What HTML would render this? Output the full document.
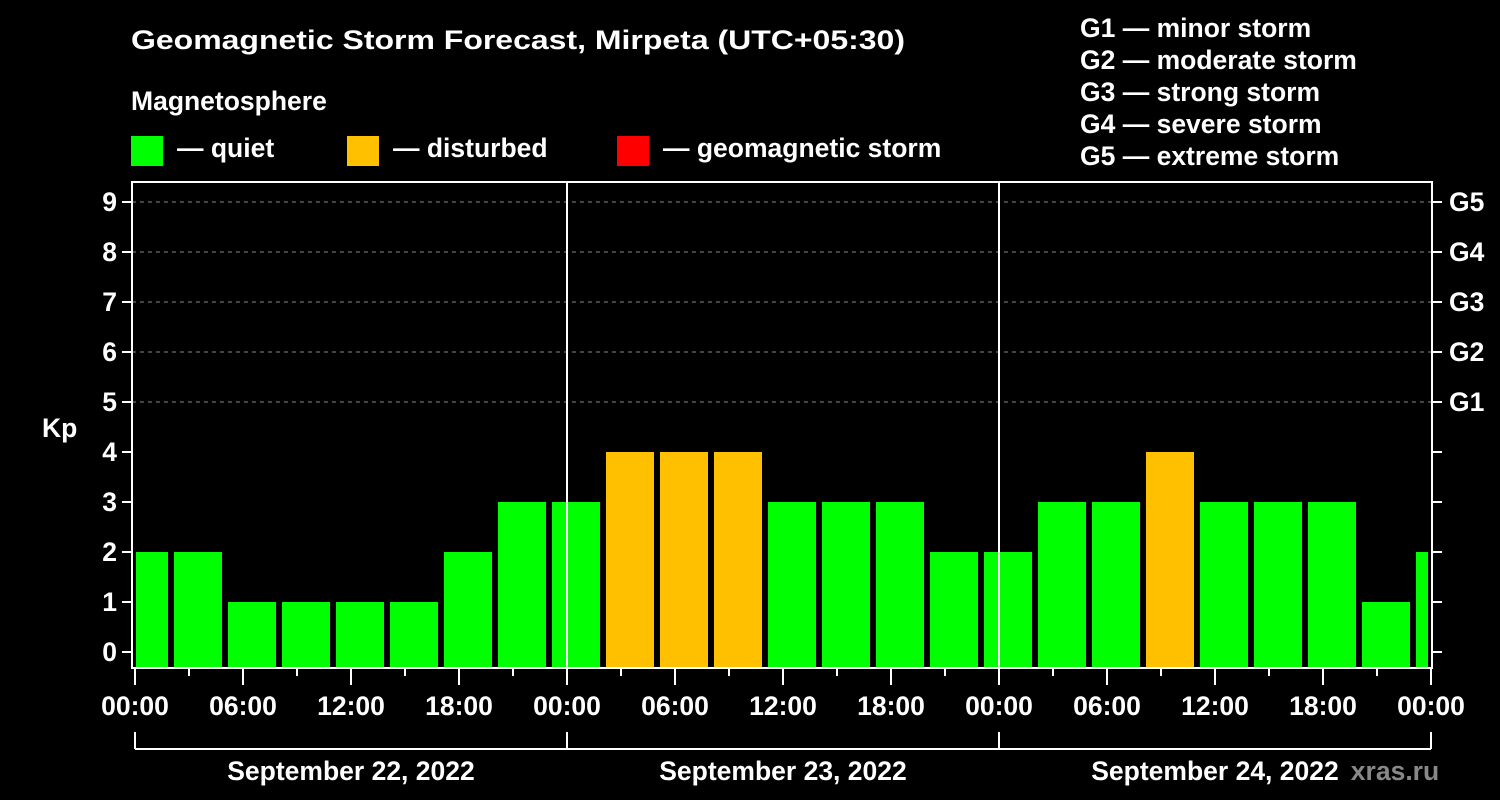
<!DOCTYPE html>
<html><head><meta charset="utf-8"><style>
html,body{margin:0;padding:0;background:#000;}
svg{display:block;font-family:"Liberation Sans",Arial,sans-serif;font-weight:bold;}
</style></head><body>
<svg id="chart" width="1500" height="800" viewBox="0 0 1500 800">
<rect width="1500" height="800" fill="#000"/>
<text x="131" y="49" fill="#fff" font-size="27" textLength="774" lengthAdjust="spacingAndGlyphs">Geomagnetic Storm Forecast, Mirpeta (UTC+05:30)</text>
<text x="131" y="110" fill="#fff" font-size="26.5">Magnetosphere</text>
<g><rect x="131" y="136" width="32" height="30" fill="#00ff00"/><text x="177" y="157" fill="#fff" font-size="26.5">— quiet</text></g>
<g><rect x="347" y="136" width="32" height="30" fill="#ffc000"/><text x="393" y="157" fill="#fff" font-size="26.5">— disturbed</text></g>
<g><rect x="617" y="136" width="32" height="30" fill="#ff0000"/><text x="663" y="157" fill="#fff" font-size="26.5">— geomagnetic storm</text></g>
<g fill="#fff" font-size="26.5">
<text x="1080" y="37">G1 — minor storm</text>
<text x="1080" y="69">G2 — moderate storm</text>
<text x="1080" y="101">G3 — strong storm</text>
<text x="1080" y="133">G4 — severe storm</text>
<text x="1080" y="165">G5 — extreme storm</text>
</g>
<g id="grid"></g><g id="bars"></g><g id="axes"></g>
<text x="42" y="437" fill="#fff" font-size="26.5">Kp</text>
<text x="1395" y="780" fill="#888" font-size="26.5" text-anchor="middle">xras.ru</text>
</svg>
<script>
const kpValues=[2,2,1,1,1,1,2,3,3,4,4,4,3,3,3,2,2,3,3,4,3,3,3,1,2];
const dayLabels=["September 22, 2022","September 23, 2022","September 24, 2022"];
const timeLabels=["00:00","06:00","12:00","18:00"];
const gLabels=["G1","G2","G3","G4","G5"];
const NS="http://www.w3.org/2000/svg";
const X0=135,PXH=18,PL=132,PR=1432,PT=182,PB=668;
const xs=h=>X0+h*PXH, ys=v=>652-v*50;
function mk(tag,attrs,parent){const e=document.createElementNS(NS,tag);for(const k in attrs)e.setAttribute(k,attrs[k]);document.getElementById(parent).appendChild(e);return e;}
for(let v=5;v<=9;v++){const l=mk('line',{x1:PL,x2:PR,y1:ys(v),y2:ys(v),stroke:'#888','stroke-dasharray':'4,4'},'grid');

}
kpValues.forEach((v,i)=>{let a=xs(i*3-1)+3,b=xs(i*3+2)-3;a=Math.max(a,PL+4);b=Math.min(b,PR-4);
const c=v>=5?'#ff0000':(v>=4?'#ffc000':'#00ff00');
const r=mk('rect',{x:a,y:ys(v),width:b-a,height:PB-ys(v),fill:c},'bars');

});
const fr=mk('rect',{x:PL,y:PT,width:PR-PL,height:PB-PT,fill:'none',stroke:'#fff','stroke-width':2},'axes');


for(let d=1;d<3;d++){const l=mk('line',{x1:xs(d*24),x2:xs(d*24),y1:PT,y2:PB,stroke:'#fff','stroke-width':2},'axes');

}
for(let v=0;v<=9;v++){mk('line',{x1:PL-10,x2:PL,y1:ys(v),y2:ys(v),stroke:'#fff','stroke-width':2},'axes');
mk('line',{x1:PR,x2:PR+10,y1:ys(v),y2:ys(v),stroke:'#fff','stroke-width':2},'axes');
const t=mk('text',{x:PL-15,y:ys(v)+9,fill:'#fff','font-size':26.5,'text-anchor':'end'},'axes');t.textContent=v;


if(v>=5){const g=mk('text',{x:PR+17,y:ys(v)+9,fill:'#fff','font-size':26.5},'axes');g.textContent=gLabels[v-5];

}}
for(let h=0;h<=72;h+=3){const maj=h%6===0;mk('line',{x1:xs(h),x2:xs(h),y1:PB,y2:PB+(maj?17:8),stroke:'#fff','stroke-width':2},'axes');
if(maj){const t=mk('text',{x:xs(h),y:715,fill:'#fff','font-size':26.5,'text-anchor':'middle'},'axes');t.textContent=timeLabels[(h/6)%4];

}}
const br=mk('line',{x1:xs(0),x2:xs(72),y1:749,y2:749,stroke:'#fff','stroke-width':2},'axes');


for(let d=0;d<=3;d++)mk('line',{x1:xs(d*24),x2:xs(d*24),y1:732,y2:749,stroke:'#fff','stroke-width':2},'axes');
dayLabels.forEach((s,d)=>{const t=mk('text',{x:xs(d*24+12),y:780,fill:'#fff','font-size':26.5,'text-anchor':'middle'},'axes');t.textContent=s;

});
</script>
</body></html>
